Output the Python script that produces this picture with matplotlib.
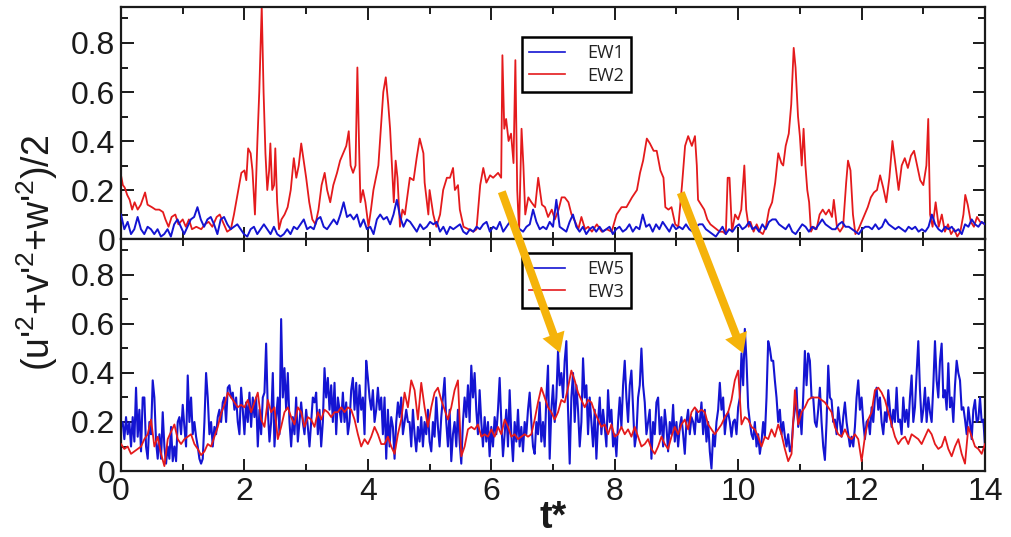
import numpy as np
import matplotlib
matplotlib.use('Agg')
import matplotlib.pyplot as plt
from matplotlib.ticker import MultipleLocator

# ---- Upper panel: EW1 (uniform sampling) and EW2 (sampled at turning points) ----
ew1 = [
    0.10, 0.04, 0.07, 0.02, 0.04, 0.09, 0.04, 0.02, 0.05, 0.04,
    0.02, 0.04, 0.01, 0.02, 0.04, 0.01, 0.06, 0.08, 0.05, 0.02,
    0.05, 0.08, 0.09, 0.13, 0.08, 0.05, 0.08, 0.09, 0.06, 0.02,
    0.08, 0.09, 0.06, 0.04, 0.05, 0.06, 0.04, 0.02, 0.01, 0.04,
    0.05, 0.02, 0.04, 0.06, 0.04, 0.02, 0.05, 0.02, 0.01, 0.02,
    0.04, 0.02, 0.05, 0.04, 0.06, 0.08, 0.04, 0.05, 0.04, 0.08,
    0.09, 0.05, 0.04, 0.06, 0.08, 0.06, 0.10, 0.15, 0.09, 0.10,
    0.08, 0.10, 0.05, 0.08, 0.04, 0.05, 0.02, 0.08, 0.10, 0.08,
    0.09, 0.06, 0.10, 0.16, 0.09, 0.05, 0.08, 0.07,
    0.05, 0.03, 0.06, 0.04, 0.05, 0.07, 0.06, 0.07, 0.03, 0.05,
    0.02, 0.05, 0.04, 0.05, 0.06, 0.03, 0.02, 0.04, 0.03, 0.05,
    0.04, 0.06, 0.07, 0.03, 0.05, 0.04, 0.07, 0.03, 0.05, 0.07,
    0.09, 0.05, 0.04, 0.03, 0.05, 0.06, 0.12, 0.07, 0.04, 0.05,
    0.04, 0.07, 0.05, 0.16, 0.05, 0.04, 0.03, 0.07, 0.10, 0.05,
    0.03, 0.05, 0.02, 0.04, 0.05, 0.03, 0.05, 0.03, 0.04, 0.05,
    0.02, 0.04, 0.05, 0.03, 0.04, 0.06, 0.03, 0.05, 0.04, 0.10,
    0.05, 0.06, 0.03, 0.06, 0.04, 0.07, 0.05, 0.03, 0.06, 0.04,
    0.05, 0.04, 0.06, 0.04, 0.03, 0.05, 0.06,
    0.06, 0.04, 0.03, 0.02, 0.01, 0.03, 0.05, 0.02, 0.04, 0.03,
    0.05, 0.06, 0.04, 0.05, 0.07, 0.04, 0.05, 0.03, 0.06, 0.04,
    0.07, 0.08, 0.08, 0.06, 0.05, 0.04, 0.06, 0.03, 0.02, 0.04,
    0.06, 0.05, 0.03, 0.05, 0.04, 0.06, 0.08, 0.06, 0.05, 0.04,
    0.04, 0.06, 0.07, 0.05, 0.05, 0.04, 0.03, 0.02, 0.04, 0.05,
    0.05, 0.04, 0.06, 0.04, 0.05, 0.08, 0.06, 0.05, 0.04, 0.05,
    0.04, 0.03, 0.05, 0.04, 0.05, 0.03, 0.04, 0.03, 0.05, 0.10,
    0.06, 0.04, 0.03, 0.05, 0.04, 0.05, 0.03, 0.04, 0.02, 0.06,
    0.05, 0.08, 0.06, 0.05, 0.07, 0.06,
]

ew2_t = [
    0.00, 0.03, 0.06, 0.10, 0.14, 0.18, 0.22, 0.27, 0.32, 0.39,
    0.43, 0.50, 0.56, 0.62, 0.68, 0.72, 0.77, 0.82, 0.88, 0.93,
    1.00, 1.05, 1.10, 1.15, 1.22, 1.30, 1.36, 1.42, 1.48, 1.55,
    1.60, 1.65, 1.72, 1.78, 1.83, 1.90, 1.95, 2.00, 2.03, 2.06,
    2.10, 2.13, 2.17, 2.21, 2.24, 2.28, 2.31, 2.34, 2.37, 2.40,
    2.42, 2.45, 2.48, 2.50, 2.53, 2.56, 2.60, 2.65, 2.70, 2.75,
    2.80, 2.84, 2.88, 2.92, 2.96, 3.00, 3.05, 3.10, 3.15, 3.20,
    3.25, 3.30, 3.34, 3.39, 3.44, 3.50, 3.55, 3.60, 3.65, 3.69,
    3.72, 3.76, 3.80, 3.83, 3.86, 3.88, 3.92, 3.96, 4.01, 4.05,
    4.09, 4.13, 4.17, 4.21, 4.25, 4.29, 4.33, 4.36, 4.39, 4.42,
    4.45, 4.48, 4.52, 4.56, 4.60,
    4.68, 4.74, 4.79, 4.84, 4.90, 4.92, 4.98, 5.00, 5.06, 5.11,
    5.17, 5.22, 5.28, 5.33, 5.38, 5.41, 5.46, 5.49, 5.55, 5.63,
    5.71, 5.76, 5.82, 5.87, 5.92, 5.98, 6.03, 6.11, 6.16, 6.18,
    6.21, 6.24, 6.28, 6.32, 6.36, 6.39, 6.42, 6.45, 6.49, 6.52,
    6.55, 6.60, 6.65, 6.71, 6.76, 6.82, 6.87, 6.92, 6.98, 7.03,
    7.09, 7.14, 7.19, 7.25, 7.30, 7.36, 7.41, 7.46, 7.52, 7.57,
    7.63, 7.71, 7.79, 7.87, 7.95, 8.03, 8.11, 8.19, 8.28, 8.36,
    8.41, 8.46, 8.52, 8.57, 8.63, 8.68, 8.74, 8.79, 8.82, 8.87,
    8.92, 8.98, 9.03, 9.09, 9.14, 9.19, 9.25, 9.30, 9.33,
    9.35, 9.40, 9.45, 9.50, 9.55, 9.60, 9.65, 9.70, 9.75, 9.80,
    9.83, 9.86, 9.90, 9.95, 10.00, 10.05, 10.10, 10.13, 10.17, 10.20,
    10.25, 10.30, 10.35, 10.40, 10.45, 10.50, 10.55, 10.60, 10.65, 10.70,
    10.73, 10.77, 10.82, 10.86, 10.90, 10.93, 10.97, 11.00, 11.03, 11.06,
    11.09, 11.12, 11.15, 11.18, 11.22, 11.27, 11.32, 11.37, 11.42, 11.47,
    11.52, 11.55, 11.60, 11.65, 11.70, 11.75, 11.78, 11.82, 11.86, 11.90,
    11.95, 12.00, 12.05, 12.10, 12.15, 12.20, 12.25, 12.30, 12.35, 12.40,
    12.45, 12.50, 12.55, 12.60, 12.65, 12.70, 12.75, 12.80, 12.85, 12.90,
    12.95, 13.00, 13.05, 13.08, 13.11, 13.15, 13.20, 13.25, 13.30, 13.35,
    13.40, 13.45, 13.50, 13.55, 13.60, 13.65, 13.68, 13.72, 13.77, 13.82,
    13.87, 13.92, 14.00,
]
ew2_v = [
    0.26, 0.22, 0.21, 0.18, 0.16, 0.12, 0.15, 0.12, 0.14, 0.19,
    0.14, 0.13, 0.12, 0.12, 0.11, 0.08, 0.05, 0.09, 0.10, 0.06,
    0.08, 0.05, 0.08, 0.04, 0.05, 0.04, 0.06, 0.07, 0.05, 0.09,
    0.10, 0.07, 0.03, 0.04, 0.10, 0.20, 0.27, 0.28, 0.24, 0.37,
    0.35, 0.28, 0.10, 0.40, 0.60, 0.95, 0.60, 0.35, 0.20, 0.28,
    0.39, 0.20, 0.22, 0.37, 0.15, 0.04, 0.08, 0.10, 0.13, 0.20,
    0.33, 0.25, 0.30, 0.39, 0.32, 0.25, 0.15, 0.08, 0.06, 0.12,
    0.22, 0.27, 0.20, 0.15, 0.22, 0.27, 0.32, 0.35, 0.38, 0.44,
    0.30, 0.27, 0.30, 0.70, 0.35, 0.15, 0.20, 0.15, 0.05, 0.12,
    0.20, 0.25, 0.30, 0.45, 0.60, 0.66, 0.55, 0.45, 0.30, 0.15,
    0.32, 0.25, 0.05, 0.12, 0.10,
    0.25, 0.24, 0.33, 0.41, 0.35, 0.23, 0.10, 0.20, 0.10, 0.05,
    0.10, 0.20, 0.25, 0.25, 0.29, 0.20, 0.22, 0.12, 0.05, 0.04,
    0.03, 0.04, 0.22, 0.29, 0.23, 0.26, 0.25, 0.27, 0.25, 0.75,
    0.45, 0.49, 0.40, 0.43, 0.31, 0.73, 0.20, 0.03, 0.45, 0.30,
    0.10, 0.17, 0.15, 0.13, 0.25, 0.14, 0.13, 0.09, 0.12, 0.08,
    0.12, 0.17, 0.17, 0.15, 0.10, 0.07, 0.04, 0.09, 0.04, 0.05,
    0.03, 0.06, 0.03, 0.04, 0.03, 0.10, 0.13, 0.13, 0.17, 0.20,
    0.27, 0.32, 0.41, 0.39, 0.36, 0.36, 0.28, 0.25, 0.13, 0.12,
    0.13, 0.06, 0.05, 0.22, 0.38, 0.42, 0.38, 0.42, 0.30,
    0.16, 0.14, 0.12, 0.08, 0.06, 0.05, 0.04, 0.03, 0.03, 0.02,
    0.25, 0.25, 0.03, 0.10, 0.08, 0.12, 0.30, 0.12, 0.05, 0.07,
    0.03, 0.06, 0.03, 0.02, 0.05, 0.12, 0.15, 0.23, 0.35, 0.31,
    0.30, 0.38, 0.43, 0.55, 0.78, 0.70, 0.50, 0.42, 0.30, 0.45,
    0.30, 0.20, 0.15, 0.03, 0.05, 0.04, 0.10, 0.12, 0.10, 0.12,
    0.09, 0.16, 0.05, 0.03, 0.05, 0.23, 0.32, 0.28, 0.10, 0.02,
    0.04, 0.07, 0.10, 0.13, 0.17, 0.19, 0.20, 0.26, 0.21, 0.15,
    0.25, 0.40, 0.30, 0.20, 0.30, 0.33, 0.29, 0.34, 0.36, 0.30,
    0.24, 0.22, 0.30, 0.49, 0.10, 0.05, 0.15, 0.05, 0.10, 0.03,
    0.06, 0.02, 0.04, 0.01, 0.03, 0.10, 0.18, 0.14, 0.07, 0.05,
    0.09, 0.07, 0.06,
]

# ---- Lower panel: EW5 and EW3 (uniform sampling) ----
ew5 = [
    0.18, 0.20, 0.13, 0.22, 0.15, 0.20, 0.10, 0.22, 0.12, 0.34,
    0.14, 0.25, 0.08, 0.30, 0.30, 0.10, 0.05, 0.20, 0.15, 0.37,
    0.30, 0.12, 0.05, 0.15, 0.05, 0.24, 0.10, 0.03, 0.10, 0.05,
    0.18, 0.04, 0.10, 0.04, 0.20, 0.22, 0.15, 0.27, 0.18, 0.10,
    0.39, 0.20, 0.30, 0.15, 0.20, 0.14, 0.10, 0.05, 0.03, 0.05,
    0.20, 0.40, 0.30, 0.15, 0.20, 0.10, 0.18, 0.15, 0.22, 0.25,
    0.20, 0.28, 0.30, 0.20, 0.34, 0.35, 0.30, 0.32, 0.25, 0.30,
    0.20, 0.15, 0.34, 0.25, 0.15, 0.28, 0.20, 0.32, 0.18, 0.30,
    0.22, 0.30, 0.10, 0.25, 0.15, 0.30, 0.32, 0.52, 0.25, 0.12,
    0.20, 0.40, 0.10, 0.22, 0.30, 0.15, 0.62, 0.30, 0.42, 0.25,
    0.40, 0.20, 0.10, 0.22, 0.15, 0.30, 0.12, 0.20, 0.28, 0.20,
    0.15, 0.25, 0.18, 0.10, 0.20, 0.30, 0.28, 0.32, 0.15, 0.25,
    0.10, 0.20, 0.42, 0.30, 0.38, 0.25, 0.35, 0.20, 0.36, 0.15,
    0.30, 0.25, 0.20, 0.32, 0.20, 0.28, 0.15, 0.20, 0.33, 0.38,
    0.25, 0.36, 0.20, 0.35, 0.25, 0.30, 0.15, 0.45, 0.38, 0.30,
    0.25, 0.33, 0.20, 0.25, 0.34, 0.25, 0.30, 0.15, 0.30, 0.05,
    0.25, 0.10, 0.22, 0.18, 0.05, 0.20, 0.28, 0.22, 0.30, 0.15,
    0.20, 0.25, 0.20,
    0.20, 0.10, 0.25, 0.15, 0.08, 0.18, 0.12, 0.22, 0.10, 0.20,
    0.15, 0.25, 0.12, 0.08, 0.20, 0.14, 0.30, 0.18, 0.10, 0.22,
    0.30, 0.38, 0.20, 0.10, 0.25, 0.04, 0.15, 0.20, 0.10, 0.25,
    0.12, 0.03, 0.20, 0.30, 0.22, 0.35, 0.20, 0.43, 0.30, 0.40,
    0.25, 0.15, 0.33, 0.20, 0.10, 0.22, 0.12, 0.20, 0.06, 0.18,
    0.10, 0.22, 0.15, 0.25, 0.38, 0.20, 0.06, 0.15, 0.25, 0.10,
    0.33, 0.15, 0.04, 0.20, 0.12, 0.25, 0.10, 0.18, 0.08, 0.20,
    0.15, 0.25, 0.32, 0.20, 0.10, 0.07, 0.20, 0.15, 0.28, 0.12,
    0.20, 0.10, 0.30, 0.43, 0.05, 0.25, 0.35, 0.20, 0.30, 0.49,
    0.35, 0.40, 0.30, 0.45, 0.53, 0.25, 0.03, 0.30, 0.40, 0.20,
    0.35, 0.25, 0.10, 0.20, 0.46, 0.30, 0.35, 0.15, 0.30, 0.20,
    0.10, 0.25, 0.05, 0.20, 0.30, 0.15, 0.25, 0.18, 0.10, 0.33,
    0.20, 0.25, 0.10, 0.15, 0.06, 0.20, 0.30, 0.18, 0.35, 0.45,
    0.30, 0.20, 0.35, 0.41, 0.25, 0.10, 0.15, 0.30, 0.35, 0.50,
    0.35, 0.28, 0.15, 0.20, 0.25, 0.05, 0.20, 0.15, 0.28, 0.30,
    0.15, 0.22, 0.10, 0.25, 0.18, 0.08, 0.20, 0.15, 0.27, 0.12,
    0.20, 0.10, 0.18, 0.22, 0.15, 0.07, 0.20, 0.25, 0.15, 0.22,
    0.20, 0.15, 0.25, 0.20,
    0.20, 0.28, 0.15, 0.25, 0.12, 0.20, 0.08, 0.01, 0.15, 0.10,
    0.20, 0.25, 0.36, 0.25, 0.30, 0.15, 0.22, 0.24, 0.20, 0.14,
    0.20, 0.21, 0.15, 0.26, 0.30, 0.48, 0.35, 0.58, 0.45, 0.26,
    0.20, 0.15, 0.13, 0.20, 0.10, 0.15, 0.07, 0.12, 0.20, 0.14,
    0.30, 0.53, 0.50, 0.45, 0.45, 0.37, 0.30, 0.20, 0.25, 0.15,
    0.20, 0.14, 0.10, 0.15, 0.08, 0.10, 0.20, 0.25, 0.34, 0.18,
    0.25, 0.15, 0.30, 0.49, 0.35, 0.48, 0.45, 0.30, 0.30, 0.20,
    0.18, 0.25, 0.34, 0.20, 0.10, 0.045, 0.20, 0.43, 0.30, 0.29,
    0.20, 0.21, 0.15, 0.26, 0.20, 0.14, 0.22, 0.28, 0.20, 0.15,
    0.10, 0.14, 0.10, 0.18, 0.30, 0.37, 0.25, 0.30, 0.20, 0.13,
    0.20, 0.21, 0.15, 0.26, 0.20, 0.30, 0.34, 0.25, 0.30, 0.20,
    0.15, 0.24, 0.20, 0.33, 0.25, 0.18, 0.25, 0.20, 0.34, 0.20,
    0.21, 0.15, 0.30, 0.20, 0.25, 0.18, 0.30, 0.39, 0.20, 0.26,
    0.40, 0.53, 0.33, 0.20, 0.25, 0.34, 0.20, 0.30, 0.24, 0.20,
    0.35, 0.53, 0.37, 0.30, 0.45, 0.52, 0.30, 0.33, 0.25, 0.44,
    0.26, 0.30, 0.20, 0.35, 0.45, 0.40, 0.37, 0.25, 0.26, 0.21,
    0.15, 0.26, 0.20, 0.13, 0.25, 0.29, 0.20, 0.21, 0.30, 0.20,
    0.21, 0.10,
]

ew3 = [
    0.11, 0.09, 0.10, 0.07, 0.08, 0.09, 0.10, 0.13, 0.15, 0.21,
    0.10, 0.14, 0.07, 0.02, 0.13, 0.16, 0.19, 0.13, 0.11, 0.13,
    0.14, 0.15, 0.11, 0.09, 0.065, 0.08, 0.11, 0.10, 0.14, 0.18,
    0.235, 0.27, 0.32, 0.30, 0.28, 0.26, 0.27, 0.26, 0.29, 0.24,
    0.28, 0.32, 0.21, 0.18, 0.29, 0.24, 0.26, 0.13, 0.18, 0.24,
    0.26, 0.22, 0.19, 0.26, 0.24, 0.18, 0.22, 0.21, 0.18, 0.24,
    0.21, 0.25, 0.24, 0.22, 0.24, 0.24, 0.26, 0.24, 0.26, 0.25,
    0.21, 0.15, 0.10, 0.13, 0.11, 0.14, 0.18, 0.15, 0.11, 0.11,
    0.14, 0.10, 0.07, 0.15, 0.21, 0.32, 0.26,
    0.37, 0.33, 0.21, 0.36, 0.26, 0.18, 0.26, 0.32, 0.34, 0.29,
    0.25, 0.21, 0.26, 0.33, 0.37, 0.06, 0.10, 0.17, 0.18, 0.17,
    0.19, 0.14, 0.15, 0.14, 0.17, 0.14, 0.18, 0.15, 0.21, 0.18,
    0.14, 0.15, 0.13, 0.14, 0.15, 0.14, 0.15, 0.21, 0.28, 0.34,
    0.30, 0.26, 0.24, 0.21, 0.24, 0.29, 0.28, 0.34, 0.41, 0.37,
    0.32, 0.29, 0.26, 0.29, 0.28, 0.24, 0.21, 0.18, 0.19, 0.15,
    0.19, 0.14, 0.15, 0.18, 0.15, 0.17, 0.14, 0.18, 0.14, 0.10,
    0.11, 0.13, 0.09, 0.07, 0.10, 0.14, 0.11, 0.09, 0.14, 0.18,
    0.15, 0.19, 0.21, 0.17, 0.24, 0.26, 0.24,
    0.25, 0.24, 0.19, 0.17, 0.15, 0.17, 0.19, 0.22, 0.24, 0.29,
    0.37, 0.41, 0.19, 0.22, 0.21, 0.18, 0.17, 0.14, 0.10, 0.14,
    0.13, 0.17, 0.14, 0.19, 0.15, 0.09, 0.04, 0.07, 0.33, 0.19,
    0.24, 0.26, 0.29, 0.30, 0.30, 0.30, 0.29, 0.28, 0.26, 0.24,
    0.18, 0.15, 0.14, 0.17, 0.14, 0.13, 0.15, 0.13, 0.04, 0.14,
    0.21, 0.24, 0.33, 0.34, 0.32, 0.29, 0.24, 0.19, 0.14, 0.11,
    0.13, 0.14, 0.11, 0.15, 0.14, 0.13, 0.11, 0.14, 0.17, 0.15,
    0.11, 0.09, 0.10, 0.14, 0.09, 0.06, 0.10, 0.13, 0.07, 0.03,
    0.18, 0.14, 0.10, 0.09, 0.07, 0.11,
]

t_end = 14.0
t_ew1 = np.linspace(0, t_end, len(ew1))
t_ew5 = np.linspace(0, t_end, len(ew5))
t_ew3 = np.linspace(0, t_end, len(ew3))

# arrows linking events in the upper panel to the lower panel: (t, value) pairs
arrow_from = [(6.17, 0.193), (9.07, 0.189)]
arrow_to = [(7.115, 0.482), (10.08, 0.48)]

blue = '#1414d2'
red = '#e41a1c'
ink = '#1a1a1a'

plt.rcParams['font.family'] = ['Liberation Sans', 'DejaVu Sans']
plt.rcParams['mathtext.fontset'] = 'custom'
plt.rcParams['mathtext.rm'] = 'Liberation Sans'
plt.rcParams['mathtext.it'] = 'Liberation Sans'

fig = plt.figure(figsize=(10.11, 5.37), dpi=100)
ax1 = fig.add_axes([0.1197, 0.5549, 0.8546, 0.4321])
ax2 = fig.add_axes([0.1197, 0.1229, 0.8546, 0.4321])

ax1.plot(ew2_t, ew2_v, color=red, lw=1.3, label='EW2', zorder=2)
ax1.plot(t_ew1, ew1, color=blue, lw=1.4, label='EW1', zorder=3)
ax2.plot(t_ew5, ew5, color=blue, lw=1.5, label='EW5', zorder=2)
ax2.plot(t_ew3, ew3, color=red, lw=1.3, label='EW3', zorder=3)

for ax in (ax1, ax2):
    ax.set_xlim(0, 14)
    ax.set_ylim(0, 0.947)
    ax.xaxis.set_major_locator(MultipleLocator(2))
    ax.xaxis.set_minor_locator(MultipleLocator(1))
    ax.yaxis.set_major_locator(MultipleLocator(0.2))
    ax.yaxis.set_minor_locator(MultipleLocator(0.1))
    ax.yaxis.set_major_formatter(lambda v, p: '0' if abs(v) < 1e-9 else f'{v:.1f}')
    ax.tick_params(which='both', direction='in', top=True, right=True,
                   width=1.4, color=ink, labelcolor=ink, labelsize=23, pad=4)
    ax.tick_params(which='major', length=9)
    ax.tick_params(which='minor', length=5)
    for sp in ax.spines.values():
        sp.set_linewidth(1.6)
        sp.set_color(ink)

ax1.tick_params(labelbottom=False)
ax2.set_xlabel('t*', fontsize=27, fontweight='bold', color=ink, labelpad=-5)
fig.text(0.037, 0.53, r"(u'$^{2}$+v'$^{2}$+w'$^{2}$)/2", rotation=90, fontsize=27,
         color=ink, ha='center', va='center')

leg_kw = dict(loc='upper left', fancybox=False, framealpha=1, edgecolor='black',
              prop={'family': 'Open Sans', 'size': 13}, handlelength=2.0,
              handletextpad=1.2, borderpad=0.4, labelspacing=0.25,
              borderaxespad=0)
h1, l1 = ax1.get_legend_handles_labels()
lg1 = ax1.legend(h1[::-1], l1[::-1], bbox_to_anchor=(0.464, 0.871), **leg_kw)
lg2 = ax2.legend(bbox_to_anchor=(0.464, 0.94), **leg_kw)
for lg in (lg1, lg2):
    lg.get_frame().set_linewidth(1.8)
    for line in lg.get_lines():
        line.set_linewidth(1.2)
    for txt in lg.get_texts():
        txt.set_color('#222222')

for (t0, v0), (t1, v1) in zip(arrow_from, arrow_to):
    ax2.annotate('', xy=(t1, v1), xycoords=ax2.transData,
                 xytext=(t0, v0), textcoords=ax1.transData,
                 annotation_clip=False, zorder=10,
                 arrowprops=dict(arrowstyle='simple,head_length=1.0,head_width=1.2,tail_width=0.42',
                                 mutation_scale=14, color='#f5b30a', lw=0,
                                 shrinkA=0, shrinkB=0))

fig.savefig('out.png', dpi=100, facecolor='white')
